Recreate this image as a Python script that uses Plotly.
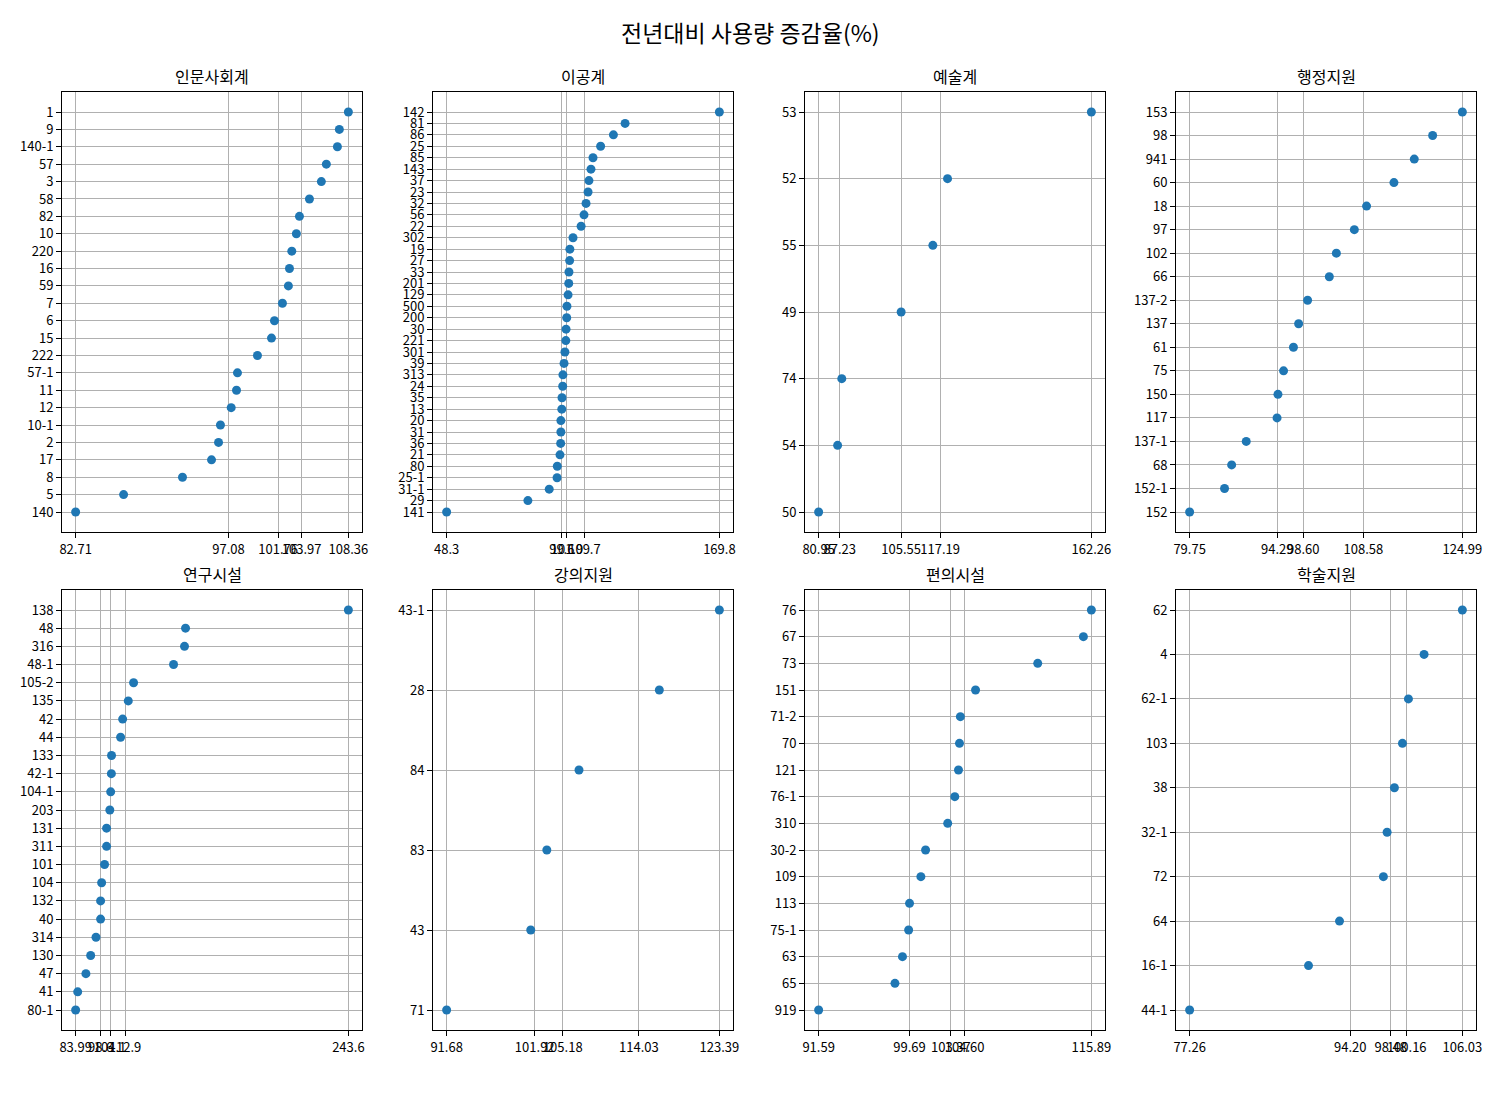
import plotly.graph_objects as go

# 전년대비 사용량 증감율 - 계열별 건물 (위에서 아래 순서)
titles = ["인문사회계", "이공계", "예술계", "행정지원", "연구시설", "강의지원", "편의시설", "학술지원"]

hum_labels = ["1", "9", "140-1", "57", "3", "58", "82", "10", "220", "16", "59", "7", "6", "15",
              "222", "57-1", "11", "12", "10-1", "2", "17", "8", "5", "140"]
hum_values = [108.36, 107.51, 107.33, 106.29, 105.82, 104.70, 103.76, 103.47, 103.04, 102.82,
              102.72, 102.16, 101.41, 101.13, 99.81, 97.93, 97.84, 97.34, 96.33, 96.15, 95.49,
              92.76, 87.22, 82.71]
hum_ticks = ["82.71", "97.08", "101.76", "103.97", "108.36"]

eng_labels = ["142", "81", "86", "25", "85", "143", "37", "23", "32", "56", "22", "302", "19",
              "27", "33", "201", "129", "500", "200", "30", "221", "301", "39", "313", "24", "35",
              "13", "20", "31", "36", "21", "80", "25-1", "31-1", "29", "141"]
eng_values = [169.8, 127.8, 122.6, 116.9, 113.5, 112.6, 111.7, 111.3, 110.4, 109.5, 108.2, 104.6,
              103.2, 103.1, 102.8, 102.7, 102.4, 101.9, 101.8, 101.5, 101.4, 101.0, 100.6, 100.1,
              100.0, 99.7, 99.6, 99.2, 99.2, 99.1, 98.8, 97.6, 97.5, 94.0, 84.5, 48.3]
eng_ticks = ["48.3", "99.6", "101.9", "109.7", "169.8"]

art_labels = ["53", "52", "55", "49", "74", "54", "50"]
art_values = [162.26, 119.38, 115.00, 105.55, 87.85, 86.61, 80.95]
art_ticks = ["80.95", "87.23", "105.55", "117.19", "162.26"]

adm_labels = ["153", "98", "941", "60", "18", "97", "102", "66", "137-2", "137", "61", "75",
              "150", "117", "137-1", "68", "152-1", "152"]
adm_values = [124.99, 120.06, 117.01, 113.64, 109.10, 107.07, 104.09, 102.92, 99.32, 97.83,
              96.97, 95.33, 94.40, 94.25, 89.14, 86.72, 85.54, 79.75]
adm_ticks = ["79.75", "94.29", "98.60", "108.58", "124.99"]

res_labels = ["138", "48", "316", "48-1", "105-2", "135", "42", "44", "133", "42-1", "104-1",
              "203", "131", "311", "101", "104", "132", "40", "314", "130", "47", "41", "80-1"]
res_values = [243.6, 148.3, 147.7, 141.3, 117.9, 114.8, 111.5, 110.3, 105.0, 104.9, 104.5,
              104.0, 102.1, 102.1, 100.9, 99.2, 98.6, 98.6, 95.9, 92.8, 90.0, 85.2, 83.99]
res_ticks = ["83.99", "98.6", "104.1", "112.9", "243.6"]

lec_labels = ["43-1", "28", "84", "83", "43", "71"]
lec_values = [123.39, 116.41, 107.07, 103.33, 101.46, 91.68]
lec_ticks = ["91.68", "101.92", "105.18", "114.03", "123.39"]

con_labels = ["76", "67", "73", "151", "71-2", "70", "121", "76-1", "310", "30-2", "109", "113",
              "75-1", "63", "65", "919"]
con_values = [115.89, 115.18, 111.11, 105.57, 104.22, 104.14, 104.05, 103.72, 103.09, 101.12,
              100.70, 99.69, 99.61, 99.06, 98.39, 91.59]
con_ticks = ["91.59", "99.69", "103.37", "104.60", "115.89"]

aca_labels = ["62", "4", "62-1", "103", "38", "32-1", "72", "64", "16-1", "44-1"]
aca_values = [106.03, 101.99, 100.34, 99.71, 98.86, 98.09, 97.70, 93.07, 89.80, 77.26]
aca_ticks = ["77.26", "94.20", "98.48", "100.16", "106.03"]

panels = [
    (hum_labels, hum_values, hum_ticks),
    (eng_labels, eng_values, eng_ticks),
    (art_labels, art_values, art_ticks),
    (adm_labels, adm_values, adm_ticks),
    (res_labels, res_values, res_ticks),
    (lec_labels, lec_values, lec_ticks),
    (con_labels, con_values, con_ticks),
    (aca_labels, aca_values, aca_ticks),
]

W, H = 1500, 1100
OFF = 8  # 페이지 body 여백 보정
cols = [(62, 362), (433, 733), (805, 1105), (1176, 1476)]
rows = [(92, 532), (590, 1030)]
FONT = "Noto Sans CJK KR"

fig = go.Figure()
layout = {}
annotations = []

for i, (labels, values, ticks) in enumerate(panels):
    n = i + 1
    sfx = "" if n == 1 else str(n)
    l, r = cols[i % 4]
    t, b = rows[i // 4]
    l, r, t, b = l - OFF, r - OFF, t - OFF, b - OFF

    # matplotlib 처럼 아래에서 위로 (작은 값이 아래)
    fig.add_trace(go.Scatter(
        x=values[::-1], y=labels[::-1], mode="markers",
        marker=dict(color="#1f77b4", size=9, line=dict(width=0)),
        xaxis="x" + sfx, yaxis="y" + sfx, showlegend=False,
    ))

    lo, hi = min(values), max(values)
    pad = (hi - lo) * 0.05
    cnt = len(labels)
    ypad = (cnt - 1) * 0.05

    layout["xaxis" + sfx] = dict(
        domain=[l / W, r / W], anchor="y" + sfx, automargin=False,
        range=[lo - pad, hi + pad],
        tickmode="array", tickvals=[float(v) for v in ticks], ticktext=ticks, tickangle=0,
        showgrid=True, gridcolor="#b0b0b0", gridwidth=0.8, zeroline=False,
        showline=True, mirror=True, linecolor="black", linewidth=1,
        ticks="outside", ticklen=5, tickwidth=1, tickcolor="black",
        tickfont=dict(family=FONT, size=13, color="black"),
    )
    layout["yaxis" + sfx] = dict(
        domain=[1 - b / H, 1 - t / H], anchor="x" + sfx, automargin=False,
        type="category", categoryorder="array", categoryarray=labels[::-1],
        tickmode="array", tickvals=labels[::-1], ticktext=labels[::-1],
        range=[-ypad, cnt - 1 + ypad],
        showgrid=True, gridcolor="#b0b0b0", gridwidth=0.8, zeroline=False,
        showline=True, mirror=True, linecolor="black", linewidth=1,
        ticks="outside", ticklen=5, tickwidth=1, tickcolor="black",
        tickfont=dict(family=FONT, size=13, color="black"),
    )
    annotations.append(dict(
        text=titles[i], x=(l + r) / 2 / W, y=1 - (t - 2) / H,
        xref="paper", yref="paper", xanchor="center", yanchor="bottom",
        showarrow=False, font=dict(family=FONT, size=16, color="black"),
    ))

annotations.append(dict(
    text="전년대비 사용량 증감율(%)", x=(750 - OFF) / W, y=1 - (32 - OFF) / H,
    xref="paper", yref="paper", xanchor="center", yanchor="middle",
    showarrow=False, font=dict(family=FONT, size=23, color="black"),
))

fig.update_layout(
    width=W, height=H, autosize=False,
    margin=dict(l=0, r=0, t=0, b=0),
    paper_bgcolor="white", plot_bgcolor="white",
    font=dict(family=FONT, color="black"),
    annotations=annotations,
    **layout,
)

fig.write_html("out.html")
